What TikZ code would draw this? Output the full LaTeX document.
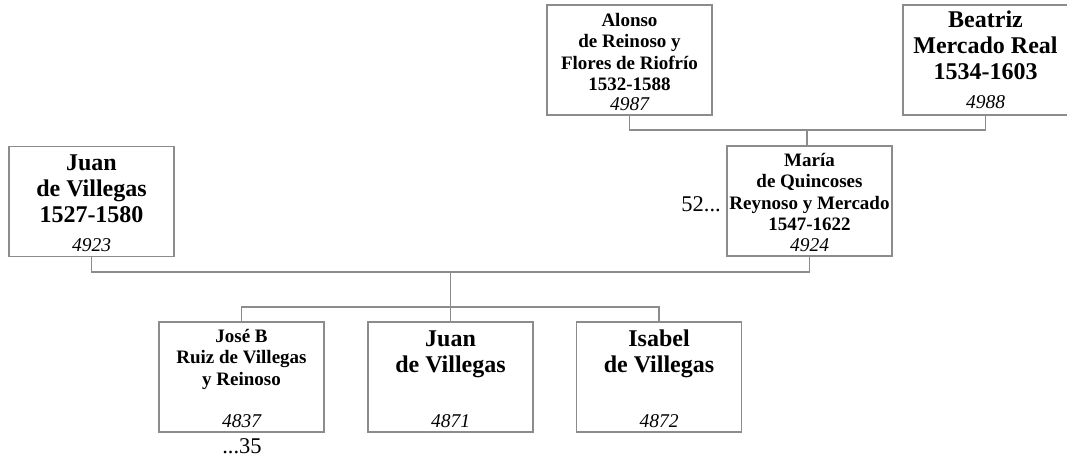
\documentclass[tikz,border=0pt]{standalone}
\usepackage{fontspec}
\setmainfont{Liberation Serif}
\newcommand\nmlines[1]{\begin{tabular}[t]{@{}c@{}}#1\end{tabular}}
\tikzset{
  person/.style={draw=black!45, line width=1.2pt, fill=white, minimum width=165pt, minimum height=110pt, inner sep=0pt},
  bigname/.style={font=\fontsize{24}{26}\selectfont\bfseries, inner sep=0pt, anchor=base},
  smallname/.style={font=\fontsize{19}{21.5}\selectfont\bfseries, inner sep=0pt, anchor=base},
  idnum/.style={font=\fontsize{19.5}{20}\selectfont\itshape, inner sep=0pt, anchor=base},
  extra/.style={font=\fontsize{22.5}{24}\selectfont, inner sep=0pt, anchor=base},
  link/.style={draw=black!45, line width=1.2pt}
}
\begin{document}
\begin{tikzpicture}[x=1pt,y=-1pt]
\useasboundingbox (0,0) rectangle (1067,459);
\clip (0,0) rectangle (1067,459);
% boxes
\node[person] (alonso) at (629.5,60) {};
\node[person] (beatriz) at (985.5,60) {};
\node[person] (maria) at (809.5,201) {};
\node[person] (juanp) at (91.5,201.5) {};
\node[person] (jose) at (241.5,377) {};
\node[person] (juanc) at (450.5,377) {};
\node[person] (isabel) at (659,377) {};
% names
\node[smallname] (alonso-t) at ([yshift=-22]alonso.north) {\nmlines{Alonso\\de Reinoso y\\Flores de Riofrío\\1532-1588}};
\node[idnum] (alonso-n) at ([yshift=5]alonso.south) {4987};
\node[bigname] (beatriz-t) at ([yshift=-23]beatriz.north) {\nmlines{Beatriz\\Mercado Real\\1534-1603}};
\node[idnum] (beatriz-n) at ([yshift=7]beatriz.south) {4988};
\node[smallname] (maria-t) at ([yshift=-21]maria.north) {\nmlines{María\\de Quincoses\\Reynoso y Mercado\\1547-1622}};
\node[idnum] (maria-n) at ([yshift=5]maria.south) {4924};
\node[bigname] (juanp-t) at ([yshift=-25]juanp.north) {\nmlines{Juan\\de Villegas\\1527-1580}};
\node[idnum] (juanp-n) at ([yshift=6]juanp.south) {4923};
\node[smallname] (jose-t) at ([yshift=-21]jose.north) {\nmlines{José B\\Ruiz de Villegas\\y Reinoso}};
\node[idnum] (jose-n) at ([yshift=5]jose.south) {4837};
\node[bigname] (juanc-t) at ([yshift=-25]juanc.north) {\nmlines{Juan\\de Villegas}};
\node[idnum] (juanc-n) at ([yshift=5]juanc.south) {4871};
\node[bigname] (isabel-t) at ([yshift=-25]isabel.north) {\nmlines{Isabel\\de Villegas}};
\node[idnum] (isabel-n) at ([yshift=5]isabel.south) {4872};
% extra labels
\node[extra, anchor=base east] (maria-x) at (721,211) {52...};
\node[extra] (jose-x) at (242,453) {...35};
% connectors
\coordinate (pm) at (807,130);
\draw[link] (alonso.south) |- (pm) -| (beatriz.south);
\draw[link] (pm) -- (pm |- maria.north);
\coordinate (pj) at (450.5,272);
\draw[link] (juanp.south) |- (pj) -| (maria.south);
\coordinate (ch) at (450.5,307);
\draw[link] (pj) -- (juanc.north);
\draw[link] (jose.north) |- (ch) -| (isabel.north);
\end{tikzpicture}
\end{document}
